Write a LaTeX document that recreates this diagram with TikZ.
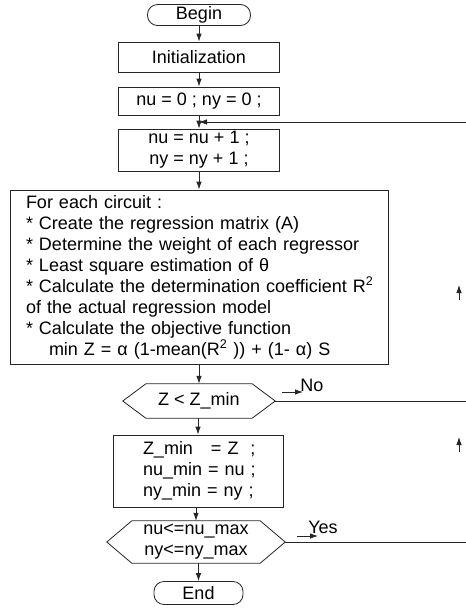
\documentclass[tikz,border=0pt]{standalone}
\usepackage{fontspec}
\setmainfont{Liberation Sans}
\usetikzlibrary{arrows.meta}
\begin{document}
\begin{tikzpicture}[x=1pt,y=-1pt,
  every node/.style={font=\fontsize{18}{21}\selectfont, inner sep=0pt},
  flow/.style={line width=0.8pt, draw=black!85},
  arr/.style={flow, -{Latex[length=8pt,width=5.5pt]}},
  procbox/.style={draw=black!85, line width=0.8pt, rectangle, align=center},
  termbox/.style={draw=black!85, line width=0.8pt, rectangle, rounded corners=10pt},
  hexbox/.style={rectangle, align=center},
  hexline/.style={draw=black!85, line width=0.8pt}
]
\useasboundingbox (0,0) rectangle (466,611);
% nodes
\node[termbox, minimum width=103pt, minimum height=21pt] (begin) at (199,15) {Begin};
\node[procbox, minimum width=161pt, minimum height=30pt] (init) at (199,57) {Initialization};
\node[procbox, minimum width=161pt, minimum height=28pt] (nz) at (199,101) {nu = 0 ; ny = 0 ;};
\node[procbox, minimum width=161pt, minimum height=42pt] (inc) at (199,150) {nu = nu + 1 ;\\ny = ny + 1 ;};
\node[procbox, align=left, text width=358pt, inner xsep=10pt, minimum height=174pt] (big) at (199,277)
  {\hspace*{6pt}For each circuit :\\
   \hspace*{6pt}{*} Create the regression matrix (A)\\
   \hspace*{6pt}{*} Determine the weight of each regressor\\
   \hspace*{6pt}{*} Least square estimation of θ\\
   \hspace*{6pt}{*} Calculate the determination coefficient R\textsuperscript{2}\\
   \hspace*{6pt}of the actual regression model\\
   \hspace*{6pt}{*} Calculate the objective function\\
   \hspace*{29pt}min Z = α (1-mean(R\textsuperscript{2} )) + (1- α) S};
\node[hexbox, minimum width=106pt, minimum height=34pt] (zc) at (199,401) {Z < Z\_min};
\draw[hexline] (zc.north west) -- (zc.north east) -- ([xshift=23pt]zc.east) coordinate (zcR)
  -- (zc.south east) -- (zc.south west) -- ([xshift=-23pt]zc.west) -- cycle;
\node[procbox, align=left, text width=136pt, inner xsep=17pt, minimum height=72pt] (zm) at (198,471)
  {\hspace*{13pt}Z\_min\ \ \ = Z\ \ ;\\\hspace*{13pt}nu\_min = nu ;\\\hspace*{13pt}ny\_min = ny ;};
\node[hexbox, minimum width=128pt, minimum height=42pt] (cnd) at (196,542) {nu<=nu\_max\\ny<=ny\_max};
\draw[hexline] (cnd.north west) -- (cnd.north east) -- ([xshift=25pt]cnd.east) coordinate (cndR)
  -- (cnd.south east) -- (cnd.south west) -- ([xshift=-25pt]cnd.west) -- cycle;
\node[termbox, minimum width=89pt, minimum height=23pt] (end) at (198.5,593) {End};
% main flow
\draw[arr] (begin) -- (init);
\draw[arr] (init) -- (nz);
\draw[arr] (nz) -- (inc);
\draw[arr] (inc.south) -- (inc.south |- big.north);
\draw[arr] (big.south -| zc.north) -- (zc.north);
\draw[arr] (zc.south -| zm.north) -- (zm.north);
\draw[arr] (zm.south -| cnd.north) -- (cnd.north);
\draw[arr] (cnd.south -| end.north) -- (end.north);
% loop back
\coordinate (loopR) at (466,122);
\coordinate (loopIn) at (199,122);
\draw[arr] (loopR) -- (loopIn);
% No branch
\coordinate (noR) at (466,401);
\draw[flow] (zcR) -- (noR);
\node (nolab) at (312,385) {No};
\coordinate (noA) at (282,392);
\coordinate (noB) at (303,392);
\draw[arr] (noA) -- (noB);
% Yes branch
\coordinate (yesR) at (466,542);
\draw[flow] (cndR) -- (yesR);
\node (yeslab) at (323,527) {Yes};
\coordinate (yesA) at (297,536);
\coordinate (yesB) at (318,536);
\draw[arr] (yesA) -- (yesB);
% up arrows on the return line
\coordinate (up1a) at (459,300);
\coordinate (up1b) at (459,285);
\draw[arr] (up1a) -- (up1b);
\coordinate (up2a) at (459,452);
\coordinate (up2b) at (459,437);
\draw[arr] (up2a) -- (up2b);
\end{tikzpicture}
\end{document}
